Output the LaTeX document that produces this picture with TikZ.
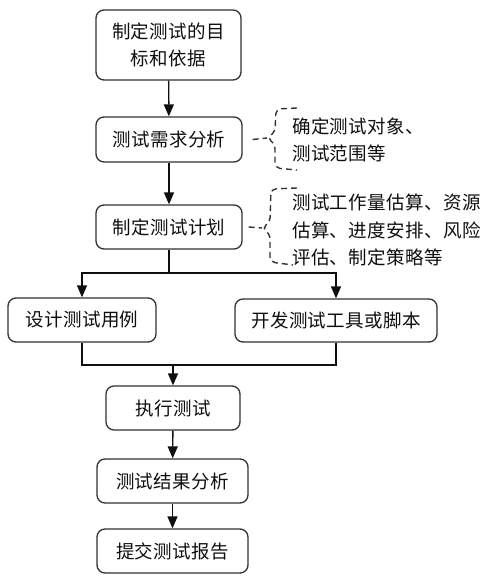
\documentclass[tikz,border=0pt]{standalone}
\usepackage{fontspec}
\setmainfont[LetterSpace=2]{Noto Sans CJK SC}
\usepackage{xcolor}
\usepackage{tikz}
\usetikzlibrary{arrows.meta, positioning, calc}
\definecolor{BoxLine}{RGB}{50, 50, 50}
\definecolor{InkBlack}{RGB}{15, 15, 15}

\tikzset{
  stepbox/.style={draw=BoxLine, line width=1.3pt, rounded corners=8pt,
    align=center, inner sep=0pt, text=InkBlack},
  flow/.style={draw=InkBlack, line width=1.4pt},
  flowarr/.style={flow, -{Triangle[width=10pt,length=12pt]}},
  noteline/.style={draw=InkBlack!85, line width=1.4pt, dash pattern=on 6pt off 4pt},
  notetext/.style={anchor=west, align=left, inner sep=0pt, text=InkBlack}
}

\begin{document}
\begin{tikzpicture}[x=1pt, y=-1pt, font=\fontsize{18.5}{27.5}\selectfont]
    \useasboundingbox[fill=white] (0,0) rectangle (495,580);

    % main steps
    \node[stepbox, minimum width=145pt, minimum height=70pt] (goal) at (168.5,45) {制定测试的目\\标和依据};
    \node[stepbox, minimum width=146pt, minimum height=45pt] (analysis) at (169,139.5) {测试需求分析};
    \node[stepbox, minimum width=146pt, minimum height=44pt] (plan) at (169,227) {制定测试计划};
    \node[stepbox, minimum width=148pt, minimum height=44pt] (design) at (82,320) {设计测试用例};
    \node[stepbox, minimum width=202pt, minimum height=43pt] (tools) at (336,320.5) {开发测试工具或脚本};
    \node[stepbox, minimum width=134pt, minimum height=44pt] (exec) at (173,408) {执行测试};
    \node[stepbox, minimum width=151pt, minimum height=44pt] (result) at (172.5,481) {测试结果分析};
    \node[stepbox, minimum width=151pt, minimum height=44pt] (report) at (172.5,551) {提交测试报告};

    % notes
    \node[notetext] (scope) at (292,140) {确定测试对象、\\测试范围等};
    \node[notetext] (planinfo) at (292,230) {测试工作量估算、资源\\估算、进度安排、风险\\评估、制定策略等};

    % braces of the notes
    \coordinate (tipA) at (267,138);
    \coordinate (tipB) at (262,228);
    \draw[noteline, rounded corners=5pt] (297,108) -- (276,109) -- (275,132) -- (tipA)
      -- (275,144) -- (275,168) -- (297,170);
    \draw[noteline, rounded corners=5pt] (297,188) -- (271,189) -- (270,222) -- (tipB)
      -- (270,234) -- (270,262) -- (293,265);
    \draw[noteline] ([xshift=10pt]analysis.east) -- (tipA);
    \draw[noteline] ([xshift=6pt]plan.east) -- (tipB);

    % flow
    \coordinate (split) at (169,273);
    \coordinate (merge) at (173,365);
    \draw[flowarr] (goal) -- (analysis);
    \draw[flowarr] (analysis) -- (plan);
    \draw[flow] (plan) -- (split);
    \draw[flowarr] (split) -| (design);
    \draw[flowarr] (split) -| (tools);
    \draw[flow] (design) |- (merge);
    \draw[flow] (tools) |- (merge);
    \draw[flowarr] (merge) -- (exec);
    \draw[flowarr] (exec) -- (result);
    \draw[flowarr] (result) -- (report);
\end{tikzpicture}
\end{document}
